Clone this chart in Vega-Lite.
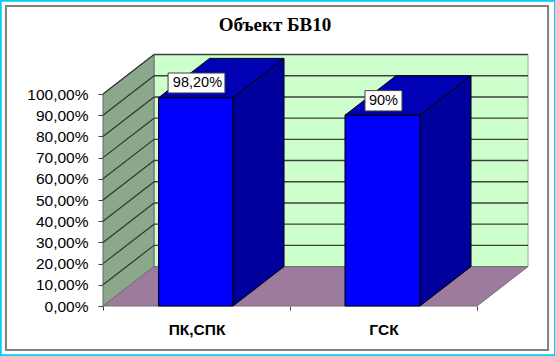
{"$schema":"https://vega.github.io/schema/vega-lite/v6.json","width":424,"height":252,"autosize":"none","padding":{"left":103,"top":54,"right":28,"bottom":50},"background":"#ffffff","view":{"stroke":null},
"title":{"text":"Объект БВ10","font":"Liberation Serif","fontSize":19,"fontWeight":"bold","color":"#000000","anchor":"middle","frame":"group","dx":-40,"offset":-35},
"datasets":{
"surfaces":[
{"shape":"back","part":"back","x":0.273,"low":18.6,"high":118.6},{"shape":"back","part":"back","x":2.273,"low":18.6,"high":118.6},
{"shape":"left","part":"left","x":0,"low":0,"high":100},{"shape":"left","part":"left","x":0.273,"low":18.6,"high":118.6},
{"shape":"floor","part":"floor","x":0,"low":0,"high":0},{"shape":"floor","part":"floor","x":0.273,"low":0,"high":18.6},{"shape":"floor","part":"floor","x":2,"low":0,"high":18.6},{"shape":"floor","part":"floor","x":2.273,"low":18.6,"high":18.6}],
"grid":[{"front":10,"back":28.6},{"front":20,"back":38.6},{"front":30,"back":48.6},{"front":40,"back":58.6},{"front":50,"back":68.6},{"front":60,"back":78.6},{"front":70,"back":88.6},{"front":80,"back":98.6},{"front":90,"back":108.6},{"front":100,"back":118.6}],
"faces":[
{"shape":"a-top","face":"top","x":0.297,"low":98.2,"high":98.2},{"shape":"a-top","face":"top","x":0.57,"low":98.2,"high":116.8},{"shape":"a-top","face":"top","x":0.695,"low":98.2,"high":116.8},{"shape":"a-top","face":"top","x":0.968,"low":116.8,"high":116.8},
{"shape":"a-side","face":"side","x":0.695,"low":0,"high":98.2},{"shape":"a-side","face":"side","x":0.968,"low":18.6,"high":116.8},
{"shape":"b-top","face":"top","x":1.294,"low":90,"high":90},{"shape":"b-top","face":"top","x":1.567,"low":90,"high":108.6},{"shape":"b-top","face":"top","x":1.695,"low":90,"high":108.6},{"shape":"b-top","face":"top","x":1.968,"low":108.6,"high":108.6},
{"shape":"b-side","face":"side","x":1.695,"low":0,"high":90},{"shape":"b-side","face":"side","x":1.968,"low":18.6,"high":108.6}],
"bars":[{"category":"ПК,СПК","value":98.2,"label":"98,20%","from":0.297,"to":0.695,"labelX":0.505,"labelY":105.2,"boxL":0.348,"boxR":0.652,"boxB":100.5,"boxT":109.9},
{"category":"ГСК","value":90,"label":"90%","from":1.294,"to":1.695,"labelX":1.5,"labelY":96.8,"boxL":1.401,"boxR":1.599,"boxB":92,"boxT":101.6}],
"frames":[{"name":"inner","l":-0.519,"r":2.38,"b":-20.75,"t":141.5},{"name":"outer","l":-0.547,"r":2.417,"b":-23.2,"t":144}]
},
"layer":[
{"data":{"name":"surfaces"},"mark":{"type":"area","orient":"vertical","strokeWidth":1},
"encoding":{"x":{"field":"x","type":"quantitative","scale":{"domain":[0,2.26738],"nice":false,"zero":false},
"axis":{"title":null,"grid":false,"domain":false,"values":[0,0.5,1,1.5,2],"tickSize":4,"tickColor":"#404040","tickOpacity":{"condition":{"test":"datum.value==0.5||datum.value==1.5","value":0},"value":1},"labelExpr":"datum.value==0.5?'ПК,СПК':datum.value==1.5?'ГСК':''","labelFont":"Liberation Sans","labelFontSize":15.5,"labelFontWeight":"bold","labelColor":"#000000","labelPadding":12,"labelOverlap":false,"labelFlush":false}},
"y":{"field":"low","type":"quantitative","scale":{"domain":[0,118.87],"nice":false,"zero":false},
"axis":{"title":null,"grid":false,"domain":false,"values":[0,10,20,30,40,50,60,70,80,90,100],"tickSize":5,"tickColor":"#404040","labelExpr":"replace(format(datum.value,'.2f'),'.',',')+'%'","labelFont":"Liberation Sans","labelFontSize":15.5,"labelColor":"#000000","labelPadding":10,"labelOverlap":false,"labelFlush":false}},
"y2":{"field":"high"},"detail":{"field":"shape"},
"color":{"field":"part","type":"nominal","legend":null,"scale":{"domain":["back","left","floor"],"range":["#CCFFCC","#8CA88C","#9C7B9C"]}},
"stroke":{"field":"part","type":"nominal","legend":null,"scale":{"domain":["back","left","floor"],"range":["#A6A6A6","#666666","#707070"]}}}},
{"data":{"name":"grid"},"mark":{"type":"rule","color":"#404040","strokeWidth":1.4},"encoding":{"x":{"datum":0.273,"axis":null},"x2":{"datum":2.273},"y":{"field":"back","type":"quantitative","axis":null}}},
{"data":{"name":"grid"},"mark":{"type":"rule","color":"#333333","strokeWidth":1.2},"encoding":{"x":{"datum":0,"axis":null},"x2":{"datum":0.273},"y":{"field":"front","type":"quantitative","axis":null},"y2":{"field":"back"}}},
{"data":{"name":"faces"},"mark":{"type":"area","orient":"vertical","stroke":"#000000","strokeWidth":1},"encoding":{"x":{"field":"x","type":"quantitative","axis":null},"y":{"field":"low","type":"quantitative","axis":null},"y2":{"field":"high"},"detail":{"field":"shape"},
"fill":{"field":"face","type":"nominal","legend":null,"scale":{"domain":["top","side"],"range":["#0000B4","#00009C"]}}}},
{"data":{"name":"bars"},"mark":{"type":"rect","fill":"#0000FF","stroke":"#000000","strokeWidth":1},"encoding":{"x":{"field":"from","type":"quantitative","axis":null},"x2":{"field":"to"},"y":{"field":"value","type":"quantitative","axis":null},"y2":{"datum":0}}},
{"data":{"name":"bars"},"mark":{"type":"rect","fill":"#ffffff","stroke":"#404040","strokeWidth":1},"encoding":{"x":{"field":"boxL","type":"quantitative","axis":null},"x2":{"field":"boxR"},"y":{"field":"boxB","type":"quantitative","axis":null},"y2":{"field":"boxT"}}},
{"data":{"name":"bars"},"mark":{"type":"text","font":"Liberation Sans","fontSize":14.5,"color":"#000000","align":"center","baseline":"middle"},"encoding":{"x":{"field":"labelX","type":"quantitative","axis":null},"y":{"field":"labelY","type":"quantitative","axis":null},"text":{"field":"label"}}},
{"data":{"name":"frames"},"mark":{"type":"rect","fillOpacity":0,"strokeWidth":2},"encoding":{"x":{"field":"l","type":"quantitative","axis":null},"x2":{"field":"r"},"y":{"field":"b","type":"quantitative","axis":null},"y2":{"field":"t"},
"stroke":{"field":"name","type":"nominal","legend":null,"scale":{"domain":["inner","outer"],"range":["#808080","#00CCFF"]}}}}
],
"resolve":{"scale":{"stroke":"independent"},"axis":{"x":"independent","y":"independent"}}}
